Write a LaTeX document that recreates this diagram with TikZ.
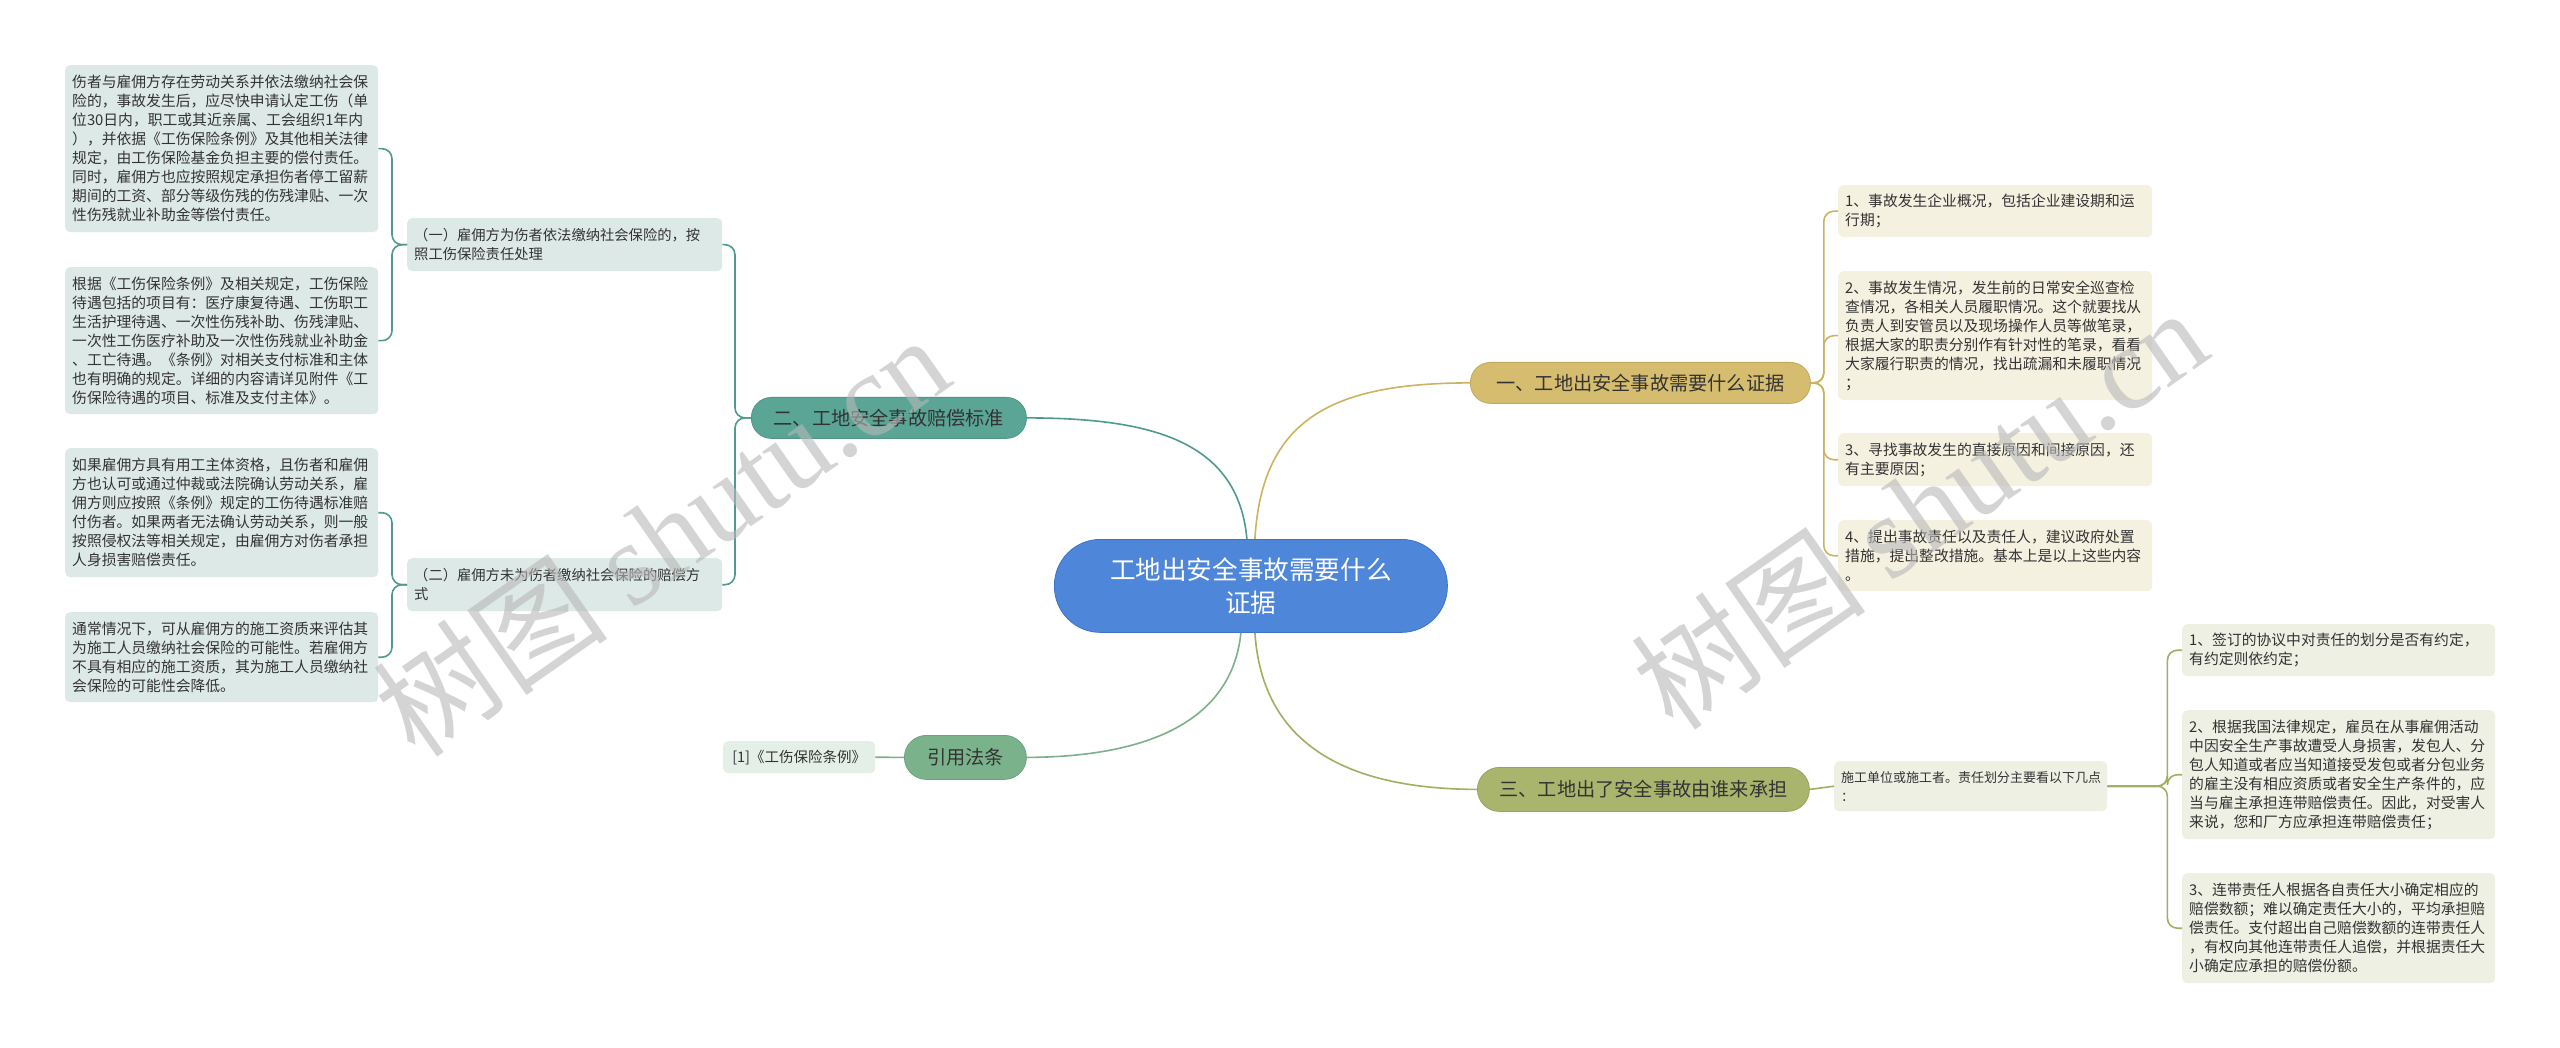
\documentclass[tikz,border=0pt]{standalone}
\usepackage{fontspec}
\setmainfont{Noto Sans CJK SC}
\newfontfamily\wmserif{Liberation Serif}
\newfontfamily\cjk{Noto Sans CJK SC}
\definecolor{cblue}{HTML}{4E86D9}
\definecolor{cblueb}{HTML}{3F74C4}
\definecolor{cgold}{HTML}{D6BC6E}
\definecolor{cteal}{HTML}{5BA597}
\definecolor{cgreen}{HTML}{7AB38B}
\definecolor{colive}{HTML}{A9B56C}
\definecolor{fteal}{HTML}{DDE9E7}
\definecolor{fgold}{HTML}{F5F1E1}
\definecolor{fgreen}{HTML}{E3EFE7}
\definecolor{folive}{HTML}{EEF0E3}
\definecolor{lteal}{HTML}{4F9A8E}
\definecolor{lgold}{HTML}{CDB361}
\definecolor{lgreen}{HTML}{7AB08A}
\definecolor{lolive}{HTML}{A3AE62}
\definecolor{txt}{HTML}{333333}
\definecolor{wm}{HTML}{B8B8B8}
\tikzset{
  box/.style={anchor=north west, rounded corners=5pt, inner xsep=7pt, inner ysep=0pt, align=left, text=txt, font=\fontsize{14.8}{19}\selectfont},
  lbox/.style={box, fill=fteal},
  gbox/.style={box, fill=fgold},
  obox/.style={box, fill=folive},
  mainnode/.style={anchor=north west, rounded corners=20pt, inner sep=0pt, align=center, text=txt, font=\fontsize{19.2}{24}\selectfont, line width=0.8pt},
  conn/.style={line width=1.6pt},
  brk/.style={line width=1.6pt, rounded corners=10pt},
  watermark/.style={rotate=35, text=wm, opacity=0.6, font=\fontsize{118}{118}\selectfont},
}
\begin{document}
\begin{tikzpicture}[x=1pt,y=-1pt]
\useasboundingbox (0,0) rectangle (2560,1048);
\fill[white] (0,0) rectangle (2560,1048);

% center
\node[anchor=north west, fill=cblue, draw=cblueb, line width=0.8pt, rounded corners=46pt, minimum width=393pt, minimum height=93pt, inner sep=0pt, align=center, text=white, font=\fontsize{25.6}{33}\selectfont] (C) at (1054,539) {工地出安全事故需要什么\\证据};

% main branches
\node[mainnode, fill=cgold, draw=cgold!90!black, minimum width=340pt, minimum height=41pt] (N1) at (1470,362) {一、工地出安全事故需要什么证据};
\node[mainnode, fill=cteal, draw=cteal!90!black, minimum width=275pt, minimum height=41pt] (N2) at (751,397) {二、工地安全事故赔偿标准};
\node[mainnode, fill=cgreen, draw=cgreen!90!black, minimum width=122pt, minimum height=44pt, rounded corners=22pt] (N3) at (904,735) {引用法条};
\node[mainnode, fill=colive, draw=colive!90!black, minimum width=332pt, minimum height=44pt, rounded corners=22pt] (N4) at (1477,767) {三、工地出了安全事故由谁来承担};

% left leaves
\node[lbox, text width=299pt, minimum height=167pt] (L1) at (65,65) {伤者与雇佣方存在劳动关系并依法缴纳社会保\\险的，事故发生后，应尽快申请认定工伤（单\\位30日内，职工或其近亲属、工会组织1年内\\），并依据《工伤保险条例》及其他相关法律\\规定，由工伤保险基金负担主要的偿付责任。\\同时，雇佣方也应按照规定承担伤者停工留薪\\期间的工资、部分等级伤残的伤残津贴、一次\\性伤残就业补助金等偿付责任。};
\node[lbox, text width=299pt, minimum height=147pt] (L2) at (65,267) {根据《工伤保险条例》及相关规定，工伤保险\\待遇包括的项目有：医疗康复待遇、工伤职工\\生活护理待遇、一次性伤残补助、伤残津贴、\\一次性工伤医疗补助及一次性伤残就业补助金\\、工亡待遇。《条例》对相关支付标准和主体\\也有明确的规定。详细的内容请详见附件《工\\伤保险待遇的项目、标准及支付主体》。};
\node[lbox, text width=299pt, minimum height=129pt] (L3) at (65,448) {如果雇佣方具有用工主体资格，且伤者和雇佣\\方也认可或通过仲裁或法院确认劳动关系，雇\\佣方则应按照《条例》规定的工伤待遇标准赔\\付伤者。如果两者无法确认劳动关系，则一般\\按照侵权法等相关规定，由雇佣方对伤者承担\\人身损害赔偿责任。};
\node[lbox, text width=299pt, minimum height=90pt] (L4) at (65,612) {通常情况下，可从雇佣方的施工资质来评估其\\为施工人员缴纳社会保险的可能性。若雇佣方\\不具有相应的施工资质，其为施工人员缴纳社\\会保险的可能性会降低。};
\node[lbox, text width=301pt, minimum height=53pt, font=\fontsize{14.3}{19}\selectfont] (S1) at (407,218) {（一）雇佣方为伤者依法缴纳社会保险的，按\\照工伤保险责任处理};
\node[lbox, text width=301pt, minimum height=53pt, font=\fontsize{14.3}{19}\selectfont] (S2) at (407,558) {（二）雇佣方未为伤者缴纳社会保险的赔偿方\\式};
\node[box, fill=fgreen, minimum width=152pt, minimum height=32pt, align=center, font=\fontsize{14.5}{19}\selectfont] (Ref) at (723,741) {[1]《工伤保险条例》};

% right leaves (branch 1)
\node[gbox, text width=300pt, minimum height=52pt] (R1) at (1838,185) {1、事故发生企业概况，包括企业建设期和运\\行期；};
\node[gbox, text width=300pt, minimum height=129pt] (R2) at (1838,271) {2、事故发生情况，发生前的日常安全巡查检\\查情况，各相关人员履职情况。这个就要找从\\负责人到安管员以及现场操作人员等做笔录，\\根据大家的职责分别作有针对性的笔录，看看\\大家履行职责的情况，找出疏漏和未履职情况\\；};
\node[gbox, text width=300pt, minimum height=53pt] (R3) at (1838,433) {3、寻找事故发生的直接原因和间接原因，还\\有主要原因；};
\node[gbox, text width=300pt, minimum height=71pt] (R4) at (1838,520) {4、提出事故责任以及责任人，建议政府处置\\措施，提出整改措施。基本上是以上这些内容\\。};

% right leaves (branch 3)
\node[obox, text width=259pt, minimum height=50pt, font=\fontsize{13}{19}\selectfont] (M) at (1834,761) {施工单位或施工者。责任划分主要看以下几点\\：};
\node[obox, text width=299pt, minimum height=52pt] (RR1) at (2182,624) {1、签订的协议中对责任的划分是否有约定，\\有约定则依约定；};
\node[obox, text width=299pt, minimum height=129pt] (RR2) at (2182,710) {2、根据我国法律规定，雇员在从事雇佣活动\\中因安全生产事故遭受人身损害，发包人、分\\包人知道或者应当知道接受发包或者分包业务\\的雇主没有相应资质或者安全生产条件的，应\\当与雇主承担连带赔偿责任。因此，对受害人\\来说，您和厂方应承担连带赔偿责任；};
\node[obox, text width=299pt, minimum height=110pt] (RR3) at (2182,873) {3、连带责任人根据各自责任大小确定相应的\\赔偿数额；难以确定责任大小的，平均承担赔\\偿责任。支付超出自己赔偿数额的连带责任人\\，有权向其他连带责任人追偿，并根据责任大\\小确定应承担的赔偿份额。};

% first-level connectors
\draw[conn, lgold] ([xshift=4pt]C.north) .. controls (1262,420) and (1330,383) .. (N1.west);
\draw[conn, lteal] ([xshift=-4pt]C.north) .. controls (1238,440) and (1150,418) .. (N2.east);
\draw[conn, lgreen] ([xshift=-10pt]C.south) .. controls (1232,720) and (1150,757) .. (N3.east);
\draw[conn, lolive] ([xshift=4pt]C.south) .. controls (1262,740) and (1340,789) .. (N4.west);

% brackets
\foreach \t in {S1,S2} \draw[brk, lteal] (N2.west) -- ++(-16,0) |- (\t.east);
\foreach \t in {L1,L2} \draw[brk, lteal] (S1.west) -- ++(-15,0) |- (\t.east);
\foreach \t in {L3,L4} \draw[brk, lteal] (S2.west) -- ++(-15,0) |- (\t.east);
\draw[conn, lgreen] (N3.west) -- (Ref.east);
\foreach \t in {R1,R2,R3,R4} \draw[brk, lgold] (N1.east) -- ++(13,0) |- (\t.west);
\draw[conn, lolive] (N4.east) -- (M.west);
\foreach \t in {RR1,RR2,RR3} \draw[brk, lolive] (M.east) -- ++(60,0) |- (\t.west);

% watermarks (drawn over the diagram, semi-transparent)
\node[watermark] (wm1) at (661,535) {{\cjk 树图} {\wmserif shutu.cn}};
\node[watermark] (wm2) at (1919,508) {{\cjk 树图} {\wmserif shutu.cn}};
\end{tikzpicture}
\end{document}
